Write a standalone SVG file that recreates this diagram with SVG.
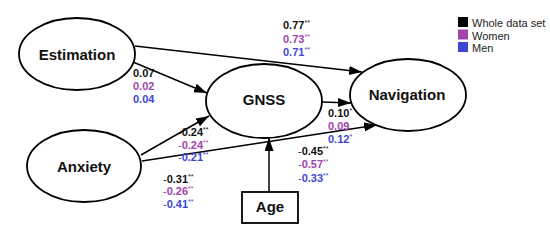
<svg xmlns="http://www.w3.org/2000/svg" width="550" height="245" viewBox="0 0 550 245">
<defs>
<marker id="ah" markerUnits="userSpaceOnUse" markerWidth="14" markerHeight="10" refX="13" refY="4.5" orient="auto">
<path d="M0,0 L13,4.5 L0,9 z" fill="#000"/>
</marker>
<style>
.node{fill:#fff;stroke:#000;stroke-width:1.8}
.nl{font-family:"Liberation Sans",Arial,sans-serif;font-weight:bold;font-size:15px;fill:#111;text-anchor:middle}
.edge{stroke:#000;stroke-width:1.5;fill:none;marker-end:url(#ah)}
.lab{font-family:"Liberation Sans",Arial,sans-serif;font-weight:bold;font-size:11px}
.k{fill:#111}
.p{fill:#a043ab}
.b{fill:#3d47d2}
.st{font-size:7px;font-weight:normal}
.mn{font-weight:normal}
.leg{font-family:"Liberation Sans",Arial,sans-serif;font-size:11px;fill:#222}
</style>
</defs>
<rect width="550" height="245" fill="#fff"/>
<g id="connectors">
<line class="edge" x1="135" y1="46" x2="362" y2="72"/>
<line class="edge" x1="133" y1="62" x2="207" y2="93"/>
<line class="edge" x1="141" y1="155" x2="209" y2="116"/>
<line class="edge" x1="142" y1="161" x2="377" y2="125"/>
<line class="edge" x1="322" y1="102" x2="351" y2="103"/>
<line class="edge" x1="269" y1="192" x2="269" y2="138"/>
</g>
<g id="estimation">
<ellipse class="node" cx="77" cy="54" rx="58" ry="36"/>
<text class="nl" x="77" y="60">Estimation</text>
</g>
<g id="gnss">
<ellipse class="node" cx="264" cy="101" rx="58" ry="37"/>
<text class="nl" x="264" y="105">GNSS</text>
</g>
<g id="navigation">
<ellipse class="node" cx="408" cy="95" rx="58" ry="36"/>
<text class="nl" x="407" y="100">Navigation</text>
</g>
<g id="anxiety">
<ellipse class="node" cx="84" cy="166" rx="57" ry="36"/>
<text class="nl" x="84" y="172">Anxiety</text>
</g>
<g id="age">
<rect class="node" x="242" y="192" width="56" height="31"/>
<text class="nl" x="270" y="212">Age</text>
</g>
<g id="labels" class="lab">
<text class="k" x="283" y="29">0.77<tspan class="st" dy="-4">**</tspan></text>
<text class="p" x="283" y="43">0.73<tspan class="st" dy="-4">**</tspan></text>
<text class="b" x="283" y="56">0.71<tspan class="st" dy="-4">**</tspan></text>
<text class="k" x="133" y="77">0.07</text>
<text class="p" x="133" y="90">0.02</text>
<text class="b" x="133" y="103">0.04</text>
<text class="k" x="178" y="136"><tspan class="mn">-</tspan>0.24<tspan class="st" dy="-4">**</tspan></text>
<text class="p" x="178" y="148.5"><tspan class="mn">-</tspan>0.24<tspan class="st" dy="-4">**</tspan></text>
<text class="b" x="178" y="161"><tspan class="mn">-</tspan>0.21<tspan class="st" dy="-4">**</tspan></text>
<text class="k" x="163" y="183"><tspan class="mn">-</tspan>0.31<tspan class="st" dy="-4">**</tspan></text>
<text class="p" x="163" y="195"><tspan class="mn">-</tspan>0.26<tspan class="st" dy="-4">**</tspan></text>
<text class="b" x="163" y="207.5"><tspan class="mn">-</tspan>0.41<tspan class="st" dy="-4">**</tspan></text>
<text class="k" x="328" y="117">0.10<tspan class="st" dy="-4">*</tspan></text>
<text class="p" x="328" y="130">0.09</text>
<text class="b" x="328" y="143">0.12<tspan class="st" dy="-4">*</tspan></text>
<text class="k" x="298" y="155"><tspan class="mn">-</tspan>0.45<tspan class="st" dy="-4">**</tspan></text>
<text class="p" x="298" y="168"><tspan class="mn">-</tspan>0.57<tspan class="st" dy="-4">**</tspan></text>
<text class="b" x="298" y="182"><tspan class="mn">-</tspan>0.33<tspan class="st" dy="-4">**</tspan></text>
</g>
<g id="legend">
<rect x="458" y="17" width="10" height="10" fill="#000"/>
<rect x="458" y="29.5" width="10" height="10" fill="#a043ab"/>
<rect x="458" y="42" width="10" height="10" fill="#3d47d2"/>
<text class="leg" x="472" y="27">Whole data set</text>
<text class="leg" x="472" y="39.5">Women</text>
<text class="leg" x="472" y="52">Men</text>
</g>
</svg>
